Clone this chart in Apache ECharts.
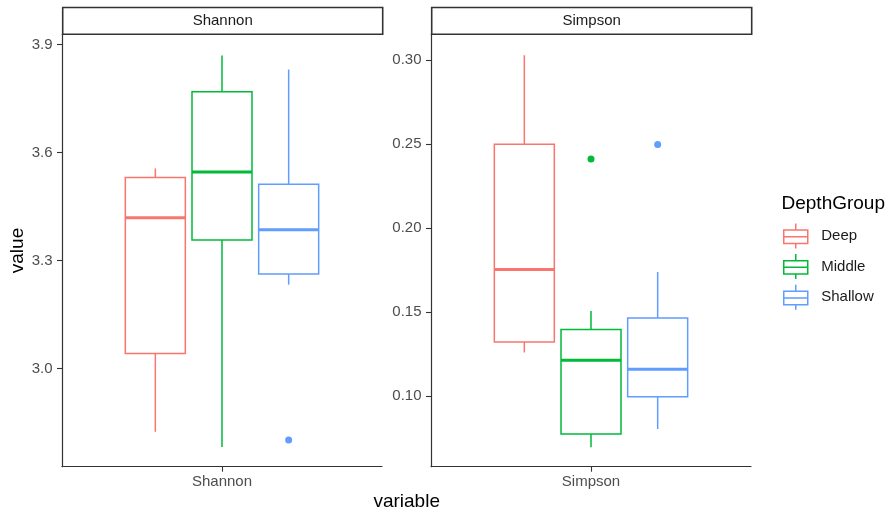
<!DOCTYPE html>
<html>
<head>
<meta charset="utf-8">
<script src="https://cdn.jsdelivr.net/npm/echarts@6/dist/echarts.min.js"></script>
<style>
html,body{margin:0;padding:0;background:#fff;}
#chart{width:888px;height:514px;}
</style>
</head>
<body>
<div id="chart"></div>
<script>
// ---- data ----
const panels = ['Shannon', 'Simpson'];
const groups = ['Deep', 'Middle', 'Shallow'];
// box stats: [lower whisker, Q1, median, Q3, upper whisker]
const shannonDeep    = [2.824, 3.042, 3.419, 3.531, 3.556];
const shannonMiddle  = [2.782, 3.357, 3.546, 3.769, 3.870];
const shannonShallow = [3.233, 3.263, 3.386, 3.512, 3.831];
const simpsonDeep    = [0.1258, 0.1321, 0.1752, 0.2500, 0.3030];
const simpsonMiddle  = [0.0693, 0.0772, 0.1212, 0.1395, 0.1506];
const simpsonShallow = [0.0802, 0.0994, 0.1158, 0.1464, 0.1738];
// outliers per group
const shannonOutliers = [[], [], [2.801]];
const simpsonOutliers = [[], [0.2411], [0.2498]];
// tick labels
const shannonTicks = [3.0, 3.3, 3.6, 3.9];
const simpsonTicks = [0.10, 0.15, 0.20, 0.25, 0.30];

// ---- styling / layout ----
const colors = ['#F8766D', '#00BA38', '#619CFF'];
const FONT = 'Liberation Sans, Arial, Helvetica, sans-serif';
const DODGE = 0.25, BOX_W = 0.225;
const panelStats = [
  [shannonDeep, shannonMiddle, shannonShallow],
  [simpsonDeep, simpsonMiddle, simpsonShallow]
];
const panelOutliers = [shannonOutliers, simpsonOutliers];
const panelTicks = [shannonTicks, simpsonTicks];
const panelDigits = [1, 2];
const panelRange = [[2.727, 3.929], [0.0577, 0.3155]];
const gridLeft = [62, 431];
const GRID_TOP = 34.3, GRID_H = 432.4, GRID_W = 320;

const chart = echarts.init(document.getElementById('chart'), null, {renderer: 'canvas'});

function renderBox(params, api) {
  const x = api.value(0);
  const lo = api.coord([x, api.value(1)]);
  const q1 = api.coord([x, api.value(2)]);
  const md = api.coord([x, api.value(3)]);
  const q3 = api.coord([x, api.value(4)]);
  const hi = api.coord([x, api.value(5)]);
  const w = api.size([BOX_W, 0])[0];
  const c = api.visual('color');
  const lw = 1.5;
  return {
    type: 'group',
    children: [
      {type: 'line', shape: {x1: hi[0], y1: hi[1], x2: q3[0], y2: q3[1]}, style: {stroke: c, lineWidth: lw}},
      {type: 'line', shape: {x1: q1[0], y1: q1[1], x2: lo[0], y2: lo[1]}, style: {stroke: c, lineWidth: lw}},
      {type: 'rect', shape: {x: q3[0] - w / 2, y: q3[1], width: w, height: q1[1] - q3[1]}, style: {fill: '#fff', stroke: c, lineWidth: lw}},
      {type: 'line', shape: {x1: md[0] - w / 2, y1: md[1], x2: md[0] + w / 2, y2: md[1]}, style: {stroke: c, lineWidth: 3}}
    ]
  };
}

const grids = [], xAxes = [], yAxes = [], series = [];
panels.forEach((name, p) => {
  grids.push({left: gridLeft[p], top: GRID_TOP, width: GRID_W, height: GRID_H, containLabel: false});
  xAxes.push({
    type: 'value', gridIndex: p, min: 0.4, max: 1.6,
    axisLine: {show: true, lineStyle: {color: '#333', width: 1.2}},
    axisTick: {show: true, length: 5, customValues: [1], lineStyle: {color: '#333', width: 1.1}},
    axisLabel: {show: true, customValues: [1], formatter: () => name, margin: 8,
      fontFamily: FONT, fontSize: 15, color: '#4D4D4D'},
    splitLine: {show: false}
  });
  yAxes.push({
    type: 'value', gridIndex: p, min: panelRange[p][0], max: panelRange[p][1],
    name: p === 0 ? 'value' : '', nameLocation: 'middle', nameGap: 32,
    nameTextStyle: {fontFamily: FONT, fontSize: 19, color: '#000'},
    axisLine: {show: true, lineStyle: {color: '#333', width: 1.2}},
    axisTick: {show: true, length: 5, customValues: panelTicks[p], lineStyle: {color: '#333', width: 1.1}},
    axisLabel: {show: true, customValues: panelTicks[p], margin: 9.5,
      formatter: v => Number(v).toFixed(panelDigits[p]),
      fontFamily: FONT, fontSize: 15, color: '#4D4D4D'},
    splitLine: {show: false}
  });
  groups.forEach((g, i) => {
    const gx = 1 + (i - 1) * DODGE;
    series.push({
      type: 'custom', name: g, xAxisIndex: p, yAxisIndex: p,
      renderItem: renderBox,
      itemStyle: {color: colors[i]},
      encode: {x: 0, y: [1, 2, 3, 4, 5]},
      data: [[gx].concat(panelStats[p][i])],
      z: 2
    });
    series.push({
      type: 'scatter', name: g, xAxisIndex: p, yAxisIndex: p,
      symbol: 'circle', symbolSize: 7,
      itemStyle: {color: colors[i], opacity: 1},
      data: panelOutliers[p][i].map(v => [gx, v]),
      z: 3
    });
  });
});

const iconPath = 'path://M12,0L12,6.6M0,6.6L24,6.6L24,20L0,20ZM0,13.3L24,13.3M12,20L12,25M32.5,13';

const stripGraphics = [];
panels.forEach((name, p) => {
  const x0 = gridLeft[p] + 0.7;
  stripGraphics.push({
    type: 'rect', shape: {x: x0, y: 7.5, width: GRID_W, height: 26.8},
    style: {fill: '#fff', stroke: '#333', lineWidth: 1.6}, z: 10
  });
  stripGraphics.push({
    type: 'text', x: x0 + GRID_W / 2, y: 21.3,
    style: {text: name, fontFamily: FONT, fontSize: 15, fill: '#1A1A1A', align: 'center', verticalAlign: 'middle'},
    z: 11
  });
});
stripGraphics.push({
  type: 'text', x: 406.7, y: 502,
  style: {text: 'variable', fontFamily: FONT, fontSize: 19, fill: '#000', align: 'center', verticalAlign: 'middle'}
});
stripGraphics.push({
  type: 'text', x: 781.5, y: 203.5,
  style: {text: 'DepthGroup', fontFamily: FONT, fontSize: 19, fill: '#000', align: 'left', verticalAlign: 'middle'}
});

chart.setOption({
  animation: false,
  backgroundColor: '#fff',
  grid: grids,
  xAxis: xAxes,
  yAxis: yAxes,
  legend: {
    orient: 'vertical', left: 783, top: 222.7, padding: 0,
    itemWidth: 32.5, itemHeight: 25, itemGap: 4.1,
    selectedMode: false,
    icon: iconPath,
    textStyle: {fontFamily: FONT, fontSize: 15, color: '#1A1A1A'},
    data: groups.map((g, i) => ({
      name: g, icon: iconPath,
      itemStyle: {color: '#fff', borderColor: colors[i], borderWidth: 1.5, opacity: 1}
    }))
  },
  graphic: stripGraphics,
  series: series
});
</script>
</body>
</html>
